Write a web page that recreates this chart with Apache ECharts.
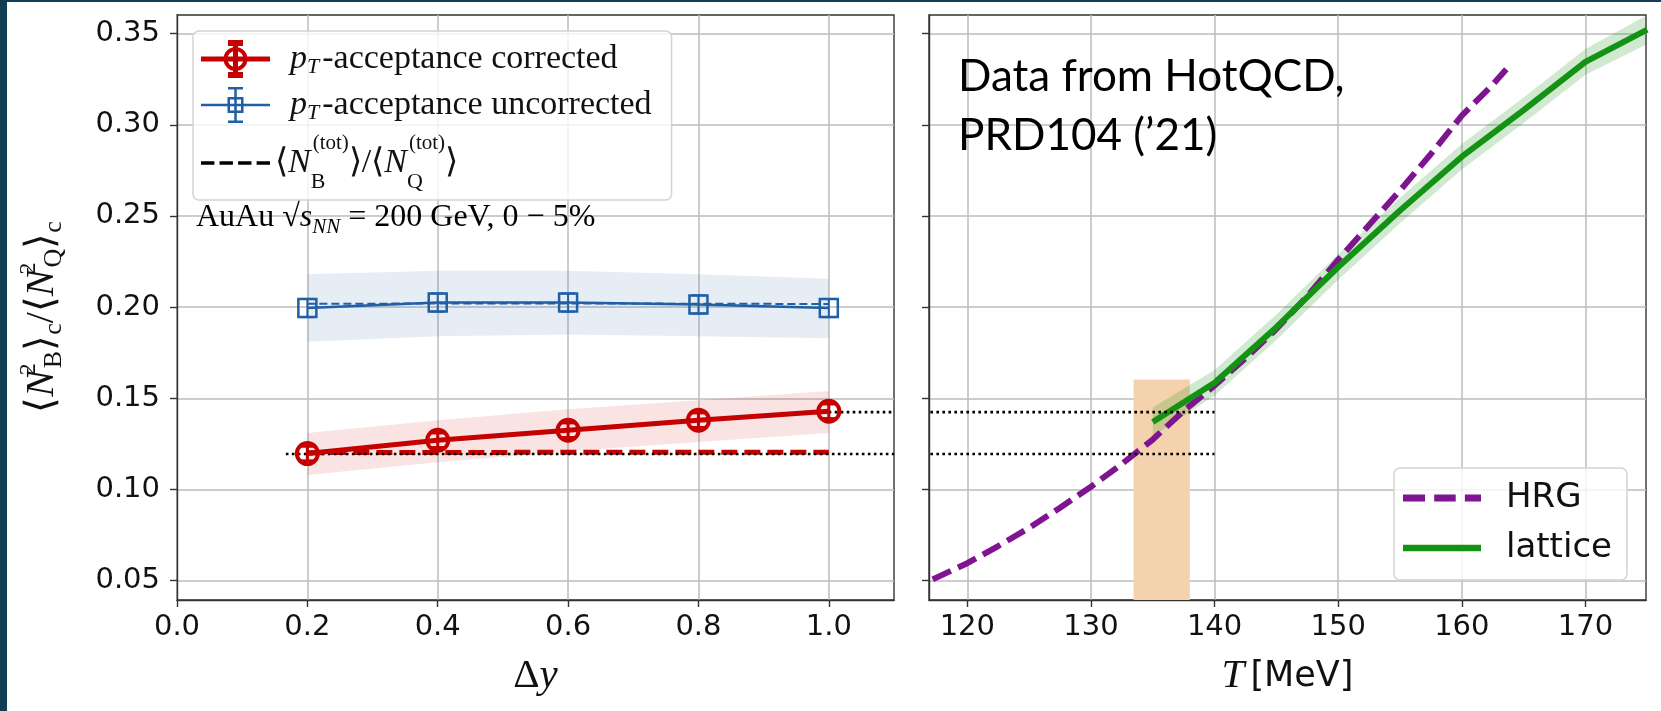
<!DOCTYPE html>
<html>
<head>
<meta charset="utf-8">
<script src="https://cdn.jsdelivr.net/npm/echarts@6/dist/echarts.min.js"></script>
<style>
  html, body { margin: 0; padding: 0; background: #fff; }
  #main { width: 1661px; height: 711px; }
</style>
</head>
<body>
<div id="main"></div>
<script>
// ---- left panel: rapidity window dy ----
var dyVals = [0.2, 0.4, 0.6, 0.8, 1.0];
var corrVals = [0.1197, 0.1270, 0.1325, 0.1380, 0.1429];
var corrErr = [0.004, 0.004, 0.004, 0.004, 0.004];
var corrLo = [0.108, 0.115, 0.121, 0.126, 0.131];
var corrHi = [0.131, 0.138, 0.144, 0.149, 0.154];
var corrTot = [0.1202, 0.1203, 0.1204, 0.1204, 0.1204];
var uncVals = [0.1995, 0.2025, 0.2025, 0.2015, 0.1995];
var uncErr = [0.005, 0.005, 0.005, 0.005, 0.005];
var uncLo = [0.181, 0.184, 0.185, 0.184, 0.183];
var uncHi = [0.218, 0.220, 0.220, 0.218, 0.2155];
var uncTot = [0.2018, 0.2020, 0.2020, 0.2019, 0.2017];

// ---- right panel: temperature T ----
var hrgT = [117.2, 120, 122.5, 125, 127.5, 130, 132.5, 135, 137.5, 140, 142.5, 145, 147.5, 150, 152.5, 155, 157.5, 160, 162.5, 163.6];
var hrgVals = [0.0507, 0.0596, 0.069, 0.079, 0.090, 0.1015, 0.114, 0.1274, 0.1431, 0.157, 0.172, 0.188, 0.206, 0.226, 0.245, 0.264, 0.284, 0.305, 0.322, 0.3304];
var latT = [135, 140, 145, 150, 155, 160, 165, 170, 175];
var latVals = [0.137, 0.1585, 0.189, 0.222, 0.253, 0.2825, 0.308, 0.3345, 0.3522];
var latLo = [0.129, 0.1515, 0.182, 0.215, 0.246, 0.2755, 0.301, 0.3275, 0.3442];
var latHi = [0.145, 0.1655, 0.196, 0.229, 0.260, 0.2895, 0.315, 0.3415, 0.3602];

var tcBand = [133.45, 138.0];
var tcBandTop = 0.1603;
var guideLevels = [0.1424, 0.1195];
var guideStartDy = [0.963, 0.167];
var guideT = [114.1, 140];

// ---- axes ----
var yTicks = [0.05, 0.10, 0.15, 0.20, 0.25, 0.30, 0.35];
var dyTicks = [0.0, 0.2, 0.4, 0.6, 0.8, 1.0];
var tTicks = [120, 130, 140, 150, 160, 170];
var yRange = [0.0394, 0.3602];
var dyRange = [0, 1.1];
var tRange = [116.9, 174.9];

var RED = '#c40000', BLUE = '#1f5fa6', PURPLE = '#7f1490', GREEN = '#149214';
var FRAME = '#333';
var SERIF = 'Liberation Serif';

// legend icons (line + marker + error bar, dashes)
var ICON_CORR = 'path://M0 16.5h69v5h-69z M32 2h5v34h-5z M27 0h15v6h-15z M27 32h15v6h-15z ' +
  'M22.5 19a12 12 0 1 1 24 0a12 12 0 1 1 -24 0z M26.5 19a8 8 0 1 0 16 0a8 8 0 1 0 -16 0z';
var ICON_UNC = 'path://M0 17.75h69v2.5h-69z M33.25 2h2.5v34h-2.5z M27 1h15v2.5h-15z M27 34.5h15v2.5h-15z ' +
  'M26.5 11h16v16h-16z M29 13.5v11h11v-11z';
var ICON_TOT = 'path://M0 0h13v3.4h-13z M18 0h13v3.4h-13z M36 0h13v3.4h-13z M54 0h13v3.4h-13z';
var ICON_HRG = 'path://M0 0h20.5v6.5h-20.5z M29 0h20v6.5h-20z M57.5 0h15v6.5h-15z';
var ICON_LAT = 'path://M0 0h78v6.5h-78z';

function zip(xs, ys) {
  return xs.map(function (x, i) { return [x, ys[i]]; });
}
function zip3(xs, ys, es) {
  return xs.map(function (x, i) { return [x, ys[i], es[i]]; });
}

function errorBar(width, cap) {
  return function (params, api) {
    var x = api.value(0), y = api.value(1), e = api.value(2);
    var top = api.coord([x, y + e]);
    var bot = api.coord([x, y - e]);
    var st = { stroke: api.visual('color'), lineWidth: width };
    return {
      type: 'group',
      children: [
        { type: 'line', shape: { x1: top[0], y1: top[1], x2: bot[0], y2: bot[1] }, style: st },
        { type: 'line', shape: { x1: top[0] - cap, y1: top[1], x2: top[0] + cap, y2: top[1] }, style: st },
        { type: 'line', shape: { x1: bot[0] - cap, y1: bot[1], x2: bot[0] + cap, y2: bot[1] }, style: st }
      ]
    };
  };
}

function bandItem(xs, lo, hi) {
  return function (params, api) {
    var pts = [];
    for (var i = 0; i < xs.length; i++) pts.push(api.coord([xs[i], hi[i]]));
    for (var j = xs.length - 1; j >= 0; j--) pts.push(api.coord([xs[j], lo[j]]));
    return { type: 'polygon', shape: { points: pts }, style: { fill: api.visual('color') } };
  };
}

function band(name, xi, xs, lo, hi, color, z) {
  return {
    name: name, type: 'custom', xAxisIndex: xi, yAxisIndex: xi, clip: true, silent: true, z: z,
    renderItem: bandItem(xs, lo, hi), itemStyle: { color: color }, data: [[xs[0], lo[0]]]
  };
}

var myChart = echarts.init(document.getElementById('main'));

var tickFont = { fontFamily: 'DejaVu Sans', fontSize: 29, color: '#111' };

function xAxisCfg(idx, range, ticks, digits, name) {
  return {
    type: 'value', gridIndex: idx, min: range[0], max: range[1],
    name: name, nameLocation: 'middle', nameGap: 56,
    nameTextStyle: {
      rich: {
        m: { fontFamily: SERIF, fontSize: 41, color: '#111' },
        mi: { fontFamily: SERIF, fontStyle: 'italic', fontSize: 41, color: '#111' },
        s: { fontFamily: 'DejaVu Sans', fontSize: 35, color: '#111', padding: [0, 0, 0, 6] }
      }
    },
    axisLine: { show: true, lineStyle: { color: FRAME, width: 1.4 } },
    axisTick: { show: true, inside: false, length: 7, customValues: ticks, lineStyle: { color: FRAME, width: 1.4 } },
    axisLabel: {
      show: true, margin: 13, customValues: ticks,
      formatter: function (v) { return v.toFixed(digits); },
      fontFamily: tickFont.fontFamily, fontSize: tickFont.fontSize, color: tickFont.color
    },
    splitLine: { show: true, lineStyle: { color: '#bdbdbd', width: 1.5 } }
  };
}

function yAxisCfg(idx, labels) {
  var cfg = {
    type: 'value', gridIndex: idx, min: yRange[0], max: yRange[1],
    axisLine: { show: true, lineStyle: { color: FRAME, width: 1.4 } },
    axisTick: { show: true, inside: false, length: 7, customValues: yTicks, lineStyle: { color: FRAME, width: 1.4 } },
    axisLabel: {
      show: labels, margin: 17, customValues: yTicks,
      formatter: function (v) { return v.toFixed(2); },
      fontFamily: tickFont.fontFamily, fontSize: tickFont.fontSize, color: tickFont.color
    },
    splitLine: { show: true, lineStyle: { color: '#bdbdbd', width: 1.5 } }
  };
  if (labels) {
    // trailing spacer nudges the rotated label down to the panel centre
    cfg.name = '{br|⟨}{ni|N}{sp|2}{sb|B}{br|⟩}{sc|c}{br|/⟨}{ni|N}{sp|2}{sb|Q}{br|⟩}{sc|c}{gap| }';
    cfg.nameLocation = 'middle';
    cfg.nameRotate = 90;
    cfg.nameGap = 110;
    cfg.nameTextStyle = {
      color: '#111',
      rich: {
        br: { fontFamily: SERIF, fontSize: 40, lineHeight: 50, color: '#111' },
        ni: { fontFamily: SERIF, fontStyle: 'italic', fontSize: 40, lineHeight: 50, color: '#111' },
        sp: { fontFamily: SERIF, fontSize: 24, lineHeight: 26, verticalAlign: 'top', width: 2, color: '#111' },
        sb: { fontFamily: SERIF, fontSize: 26, lineHeight: 26, verticalAlign: 'bottom', color: '#111' },
        sc: { fontFamily: SERIF, fontSize: 26, lineHeight: 24, verticalAlign: 'bottom', color: '#111' },
        gap: { fontSize: 10, width: 19 }
      }
    };
  }
  return cfg;
}

var legendText = {
  corr: '{pi|p}{ps|T}{t|-acceptance corrected}',
  unc: '{pi|p}{ps|T}{t|-acceptance uncorrected}',
  tot: '{b3|⟨}{n3|N}{lb|B}{lp|(tot)}{b3|⟩/⟨}{n3|N}{lb|Q}{lp|(tot)}{b3|⟩}'
};

var series = [];
series.push(band('uncBand', 0, dyVals, uncLo, uncHi, 'rgba(31,95,166,0.11)', 1));
series.push(band('corrBand', 0, dyVals, corrLo, corrHi, 'rgba(204,0,0,0.11)', 1));
series.push(band('latBand', 1, latT, latLo, latHi, 'rgba(20,146,20,0.2)', 3));

series.push({
  name: 'tcBand', type: 'line', xAxisIndex: 1, yAxisIndex: 1, data: [], z: 1, silent: true,
  markArea: {
    silent: true,
    itemStyle: { color: '#f5d2ae', opacity: 1 },
    data: [[{ xAxis: tcBand[0], yAxis: yRange[0] }, { xAxis: tcBand[1], yAxis: tcBandTop }]]
  }
});

// dotted guides from left points to T axis
guideLevels.forEach(function (lvl, i) {
  series.push({
    name: 'guideL' + i, type: 'line', xAxisIndex: 0, yAxisIndex: 0,
    data: [[guideStartDy[i], lvl], [dyRange[1], lvl]], symbol: 'none', silent: true, z: 5,
    lineStyle: { color: '#000', width: 2.6, type: [2.6, 3.4] }
  });
  series.push({
    name: 'guideR' + i, type: 'line', xAxisIndex: 1, yAxisIndex: 1, clip: false,
    data: [[guideT[0], lvl], [guideT[1], lvl]], symbol: 'none', silent: true, z: 5,
    lineStyle: { color: '#000', width: 2.6, type: [2.6, 3.4] }
  });
});

series.push({
  name: 'corrTotLine', type: 'line', xAxisIndex: 0, yAxisIndex: 0, data: zip(dyVals, corrTot),
  symbol: 'none', z: 4, lineStyle: { color: RED, width: 5, type: [16, 7] }
});
series.push({
  name: 'uncTotLine', type: 'line', xAxisIndex: 0, yAxisIndex: 0, data: zip(dyVals, uncTot),
  symbol: 'none', z: 4, lineStyle: { color: BLUE, width: 2, type: [8, 4] }
});
series.push({
  name: 'tot', type: 'line', xAxisIndex: 0, yAxisIndex: 0, data: [],
  symbol: 'none', lineStyle: { color: '#000', width: 3.3, type: [13, 5] }, itemStyle: { color: '#000' }
});
series.push({
  name: 'corr', type: 'line', xAxisIndex: 0, yAxisIndex: 0, data: zip(dyVals, corrVals), z: 6,
  symbol: 'circle', symbolSize: 21,
  lineStyle: { color: RED, width: 5 },
  itemStyle: { color: 'rgba(255,255,255,0)', borderColor: RED, borderWidth: 4 }
});
series.push({
  name: 'corrErr', type: 'custom', xAxisIndex: 0, yAxisIndex: 0, z: 6,
  renderItem: errorBar(3, 7), itemStyle: { color: RED }, data: zip3(dyVals, corrVals, corrErr)
});
series.push({
  name: 'unc', type: 'line', xAxisIndex: 0, yAxisIndex: 0, data: zip(dyVals, uncVals), z: 6,
  symbol: 'rect', symbolSize: 18,
  lineStyle: { color: BLUE, width: 2.5 },
  itemStyle: { color: 'rgba(255,255,255,0)', borderColor: BLUE, borderWidth: 2.5 }
});
series.push({
  name: 'uncErr', type: 'custom', xAxisIndex: 0, yAxisIndex: 0, z: 6,
  renderItem: errorBar(2, 7), itemStyle: { color: BLUE }, data: zip3(dyVals, uncVals, uncErr)
});

series.push({
  name: 'HRG', type: 'line', xAxisIndex: 1, yAxisIndex: 1, data: zip(hrgT, hrgVals), z: 4,
  symbol: 'none',
  lineStyle: { color: PURPLE, width: 6, type: [20, 8] }, itemStyle: { color: PURPLE }
});
series.push({
  name: 'lattice', type: 'line', xAxisIndex: 1, yAxisIndex: 1, data: zip(latT, latVals), z: 4,
  symbol: 'none',
  lineStyle: { color: GREEN, width: 6 }, itemStyle: { color: GREEN }
});

var option = {
  animation: false,
  backgroundColor: '#fff',
  grid: [
    { left: 177, top: 15, width: 717, height: 585, show: true, borderColor: FRAME, borderWidth: 1.4, backgroundColor: 'transparent' },
    { left: 929, top: 15, width: 717, height: 585, show: true, borderColor: FRAME, borderWidth: 1.4, backgroundColor: 'transparent' }
  ],
  xAxis: [
    xAxisCfg(0, dyRange, dyTicks, 1, '{m|Δ}{mi|y}'),
    xAxisCfg(1, tRange, tTicks, 0, '{mi|T}{s|[MeV]}')
  ],
  yAxis: [yAxisCfg(0, true), yAxisCfg(1, false)],
  legend: [{
    data: [
      { name: 'corr', icon: ICON_CORR, itemStyle: { color: RED, borderWidth: 0 } },
      { name: 'unc', icon: ICON_UNC, itemStyle: { color: BLUE, borderWidth: 0 } },
      { name: 'tot', icon: ICON_TOT, itemStyle: { color: '#000', borderWidth: 0 } }
    ],
    left: 193, top: 31, orient: 'vertical',
    itemWidth: 69, itemHeight: 38, itemGap: 9,
    symbolKeepAspect: true,
    padding: [9, 20, 7, 8],
    backgroundColor: 'rgba(255,255,255,0.8)',
    borderColor: '#d4d4d4', borderWidth: 1.5, borderRadius: 6,
    formatter: function (name) { return legendText[name]; },
    textStyle: {
      color: '#111',
      rich: {
        pi: { fontFamily: SERIF, fontStyle: 'italic', fontSize: 34, lineHeight: 38, padding: [0, 0, 0, 15], color: '#111' },
        ps: { fontFamily: SERIF, fontStyle: 'italic', fontSize: 22, lineHeight: 23, verticalAlign: 'bottom', color: '#111' },
        t: { fontFamily: SERIF, fontSize: 34, lineHeight: 38, padding: [0, 0, 0, 3], color: '#111' },
        b3: { fontFamily: SERIF, fontSize: 34, lineHeight: 60, color: '#111' },
        n3: { fontFamily: SERIF, fontStyle: 'italic', fontSize: 34, lineHeight: 60, color: '#111' },
        lb: { fontFamily: SERIF, fontSize: 22, lineHeight: 25, verticalAlign: 'bottom', width: 2, color: '#111' },
        lp: { fontFamily: SERIF, fontSize: 21, lineHeight: 28, verticalAlign: 'top', color: '#111' }
      }
    }
  }, {
    data: [
      { name: 'HRG', icon: ICON_HRG, itemStyle: { color: PURPLE, borderWidth: 0 } },
      { name: 'lattice', icon: ICON_LAT, itemStyle: { color: GREEN, borderWidth: 0 } }
    ],
    left: 1394, top: 468, orient: 'vertical',
    itemWidth: 78, itemHeight: 20, itemGap: 10,
    symbolKeepAspect: true,
    padding: [10, 15, 12, 9],
    backgroundColor: 'rgba(255,255,255,0.8)',
    borderColor: '#d4d4d4', borderWidth: 1.5, borderRadius: 6,
    textStyle: { fontFamily: 'DejaVu Sans', fontSize: 34, lineHeight: 40, color: '#111', padding: [0, 0, 0, 20] }
  }],
  graphic: [
    { type: 'rect', shape: { x: 0, y: 0, width: 7, height: 711 }, style: { fill: '#123e55' }, z: 100 },
    { type: 'rect', shape: { x: 0, y: 0, width: 1661, height: 2 }, style: { fill: '#123e55' }, z: 100 },
    {
      type: 'text', x: 958, y: 77, z: 50,
      style: { text: 'Data from HotQCD,', fontFamily: 'Lato', fontSize: 44, fill: '#000', verticalAlign: 'middle' }
    },
    {
      type: 'text', x: 958, y: 136, z: 50,
      style: { text: 'PRD104 (’21)', fontFamily: 'Lato', fontSize: 44, fill: '#000', verticalAlign: 'middle' }
    },
    {
      type: 'text', x: 196, y: 218, z: 50,
      style: {
        text: '{r|AuAu }{r|√}{si|s}{ss|NN}{r| = 200 GeV, 0 − 5%}',
        verticalAlign: 'middle',
        rich: {
          r: { fontFamily: SERIF, fontSize: 32, lineHeight: 40, color: '#111' },
          si: { fontFamily: SERIF, fontStyle: 'italic', fontSize: 32, lineHeight: 40, color: '#111' },
          ss: { fontFamily: SERIF, fontStyle: 'italic', fontSize: 21, lineHeight: 22, verticalAlign: 'bottom', color: '#111' }
        }
      }
    }
  ],
  series: series
};

myChart.setOption(option);
</script>
</body>
</html>
